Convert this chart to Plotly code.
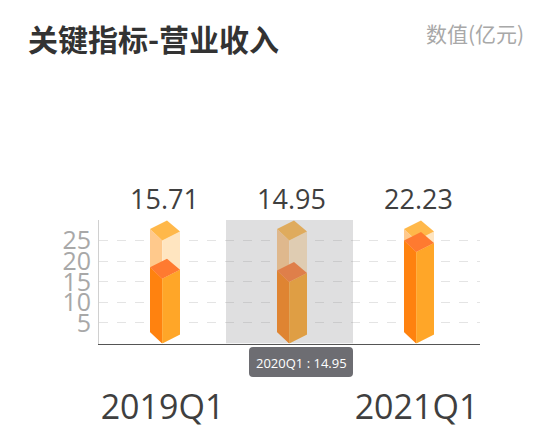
import plotly.graph_objects as go

categories = ["2019Q1", "2020Q1", "2021Q1"]
shown_labels = ["2019Q1", "", "2021Q1"]
values = [15.71, 14.95, 22.23]
backdrop = [25, 25, 25]
y_ticks = [5, 10, 15, 20, 25, 30]
y_labels = ["5", "10", "15", "20", "25", ""]

W, H = 554, 443
LEFT, RIGHT, TOP, BOTTOM = 99, 480, 220, 343.5
FONT = "Open Sans, Noto Sans CJK SC, sans-serif"
CJK = "Noto Sans CJK SC, sans-serif"

# pixel sizes of the fake 3D box, turned into axis units below
PX_X = 1 / ((RIGHT - LEFT) / 3)
PX_Y = 30 / (BOTTOM - TOP)
DX_LEFT, DX_FRONT, DX_RIGHT, DX_BACK = -12.5 * PX_X, -0.3 * PX_X, 17.5 * PX_X, 4.5 * PX_X
DY_LEFT, DY_RIGHT, DY_BACK = 11.5 * PX_Y, 9 * PX_Y, 20 * PX_Y


def face(xs, ys, color):
    return go.Scatter(x=xs, y=ys, mode="lines", fill="toself", fillcolor=color,
                      line=dict(width=0), hoverinfo="skip", showlegend=False)


def box(i, v, left_color, right_color, top_color):
    xl, xf, xr, xb = i + DX_LEFT, i + DX_FRONT, i + DX_RIGHT, i + DX_BACK
    return [
        face([xl, xf, xf, xl, xl], [DY_LEFT, 0, v, v + DY_LEFT, DY_LEFT], left_color),
        face([xf, xr, xr, xf, xf], [0, DY_RIGHT, v + DY_RIGHT, v, 0], right_color),
        face([xl, xb, xr, xf, xl], [v + DY_LEFT, v + DY_BACK, v + DY_RIGHT, v, v + DY_LEFT], top_color),
    ]


fig = go.Figure()
for i, v in enumerate(backdrop):
    fig.add_traces(box(i, v, "#ffc98c", "#ffe5c0", "#ffb84a"))
for i, v in enumerate(values):
    fig.add_traces(box(i, v, "#ff820f", "#ffa628", "#ff7a30"))


def px(x):
    return x / W


def py(y):
    return 1 - y / H


# rounded tooltip box
tx0, tx1, ty0, ty1, r = 249, 353, 347, 377, 4
tip_path = (
    f"M {px(tx0 + r)} {py(ty0)} L {px(tx1 - r)} {py(ty0)} Q {px(tx1)} {py(ty0)} {px(tx1)} {py(ty0 + r)} "
    f"L {px(tx1)} {py(ty1 - r)} Q {px(tx1)} {py(ty1)} {px(tx1 - r)} {py(ty1)} "
    f"L {px(tx0 + r)} {py(ty1)} Q {px(tx0)} {py(ty1)} {px(tx0)} {py(ty1 - r)} "
    f"L {px(tx0)} {py(ty0 + r)} Q {px(tx0)} {py(ty0)} {px(tx0 + r)} {py(ty0)} Z"
)

# value labels sit above the plot area, out of the axis range
value_labels = [
    dict(text=f"{v:.2f}", xref="x", yref="y", x=i, y=30, xshift=1.5, yshift=21,
         xanchor="center", yanchor="middle", showarrow=False,
         font=dict(family=FONT, size=27, color="#3f3f3f"))
    for i, v in enumerate(values)
]

fig.update_layout(
    width=W, height=H,
    margin=dict(l=0, r=0, t=0, b=0),
    paper_bgcolor="white", plot_bgcolor="white",
    showlegend=False,
    xaxis=dict(
        domain=[px(LEFT), px(RIGHT)], range=[-0.5, 2.5],
        tickmode="array", tickvals=list(range(len(categories))), ticktext=shown_labels,
        tickfont=dict(family=FONT, size=34, color="#3f3f3f"),
        ticks="", ticklabelstandoff=34,
        showgrid=False, zeroline=False,
        showline=True, linecolor="#555555", linewidth=1,
    ),
    yaxis=dict(
        domain=[py(BOTTOM), py(TOP)], range=[0, 30],
        tickmode="array", tickvals=y_ticks, ticktext=y_labels,
        tickfont=dict(family=FONT, size=25, color="#a8a8a8"),
        ticks="", ticklabelstandoff=2,
        showgrid=True, gridcolor="#e4e4e4", griddash="dash", gridwidth=1,
        zeroline=False,
        showline=True, linecolor="#d0d0d0", linewidth=1,
    ),
    shapes=[
        # highlighted band of the hovered category
        dict(type="rect", xref="x", yref="y", x0=0.5, x1=1.5, y0=0, y1=30,
             fillcolor="rgba(140,140,145,0.28)", line=dict(width=0), layer="above"),
        dict(type="path", xref="paper", yref="paper", path=tip_path,
             fillcolor="#6d6d72", line=dict(width=0), layer="above"),
    ],
    annotations=value_labels + [
        dict(text="<b>关键指标-营业收入</b>", xref="paper", yref="paper", x=px(26), y=py(38),
             xanchor="left", yanchor="middle", showarrow=False,
             font=dict(family=CJK, size=30, color="#333333")),
        dict(text="数值(亿元)", xref="paper", yref="paper", x=px(526), y=py(33),
             xanchor="right", yanchor="middle", showarrow=False,
             font=dict(family=CJK, size=21, color="#a8a8a8")),
        dict(text=f"{categories[1]} : {values[1]:.2f}", xref="paper", yref="paper",
             x=px((tx0 + tx1) / 2), y=py((ty0 + ty1) / 2 + 1),
             xanchor="center", yanchor="middle", showarrow=False,
             font=dict(family=FONT, size=13, color="white")),
    ],
)

# page default margin would push the figure 8px in
fig.write_html("out.html", config=dict(displayModeBar=False),
               post_script="document.body.style.margin='0';")
